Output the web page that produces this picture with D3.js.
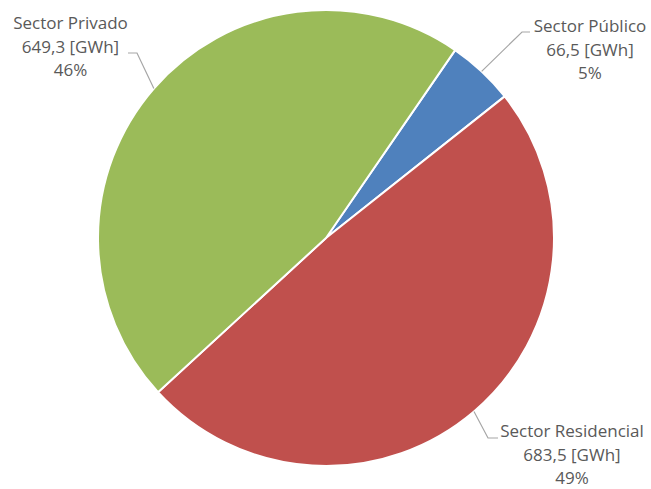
<!DOCTYPE html>
<html>
<head>
<meta charset="utf-8">
<script src="https://cdn.jsdelivr.net/npm/d3@7"></script>
<style>
  html, body { margin: 0; padding: 0; background: #ffffff; }
  svg { display: block; }
  text { font-family: "Open Sans", "Liberation Sans", sans-serif; font-size: 17px; fill: #595959; }
</style>
</head>
<body>
<svg id="chart" width="651" height="489"></svg>
<script>
// Electricity consumption by sector, in GWh
const categories = ["Sector Público", "Sector Residencial", "Sector Privado"];
const values = [66.5, 683.5, 649.3];
const colors = ["#4F81BD", "#C0504D", "#9BBB59"];
const unit = "[GWh]";

// Label layout: text anchor (centre x, first baseline) and leader elbow per slice
const labelAnchors = [
  { x: 590, y: 32, elbow: [522, 32], end: [530, 32] },
  { x: 572, y: 437, elbow: [488, 438], end: [498, 438] },
  { x: 70.5, y: 29, elbow: [137, 53], end: [128, 53] }
];

const width = 651, height = 489;
const cx = 326, cy = 238, radius = 228;
const startDeg = 34.5;
const lineHeight = 23.5;

const locale = d3.formatLocale({ decimal: ",", thousands: ".", grouping: [3], currency: ["", ""] });
const fmtValue = locale.format(".1f");
const total = d3.sum(values);
const fmtPct = v => Math.round(v / total * 100) + "%";

const svg = d3.select("#chart");
const g = svg.append("g").attr("transform", `translate(${cx},${cy})`);

const pie = d3.pie()
  .sort(null)
  .value(d => d)
  .startAngle(startDeg * Math.PI / 180)
  .endAngle((startDeg + 360) * Math.PI / 180);

const arcs = pie(values);
const arc = d3.arc().innerRadius(0).outerRadius(radius);

g.selectAll("path.slice")
  .data(arcs)
  .join("path")
  .attr("class", "slice")
  .attr("d", arc)
  .attr("fill", (d, i) => colors[i])
  .attr("stroke", "#ffffff")
  .attr("stroke-width", 2)
  .attr("stroke-linejoin", "round");

// Leader lines from the mid-angle of each slice on the rim
const leaders = svg.append("g");
arcs.forEach((a, i) => {
  const mid = (a.startAngle + a.endAngle) / 2;
  const px = cx + radius * Math.sin(mid);
  const py = cy - radius * Math.cos(mid);
  const L = labelAnchors[i];
  leaders.append("polyline")
    .attr("points", [[px, py], L.elbow, L.end].map(p => p.join(",")).join(" "))
    .attr("fill", "none")
    .attr("stroke", "#A6A6A6")
    .attr("stroke-width", 1.2);
});

// Data labels: name, value with unit, percentage
const labels = svg.append("g");
categories.forEach((name, i) => {
  const L = labelAnchors[i];
  const lines = [name, fmtValue(values[i]) + " " + unit, fmtPct(values[i])];
  const t = labels.append("text")
    .attr("text-anchor", "middle")
    .attr("x", L.x)
    .attr("y", L.y);
  lines.forEach((s, k) => {
    t.append("tspan")
      .attr("x", L.x)
      .attr("dy", k === 0 ? 0 : lineHeight)
      .text(s);
  });
});
</script>
</body>
</html>
